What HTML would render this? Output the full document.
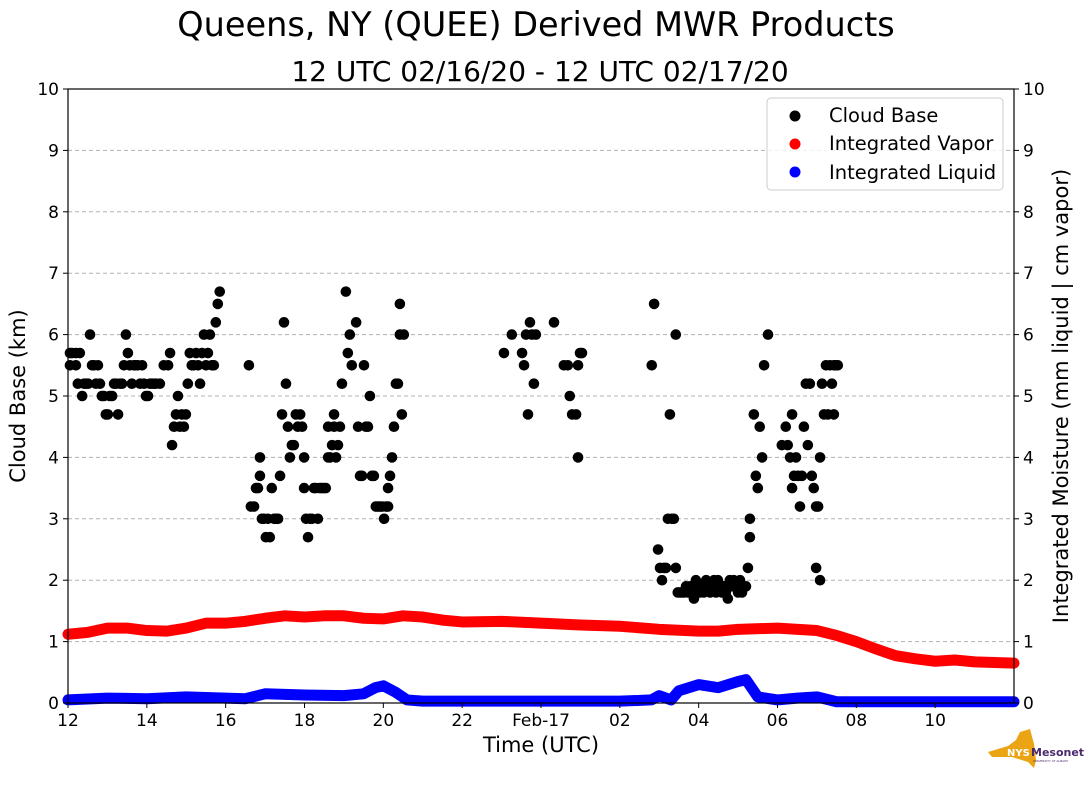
<!DOCTYPE html>
<html><head><meta charset="utf-8"><style>
body{margin:0;background:#fff;font-family:"Liberation Sans",sans-serif}
svg text{font-family:"DejaVu Sans","Liberation Sans",sans-serif}
</style></head><body>
<svg id="chart" width="1089" height="804" xmlns="http://www.w3.org/2000/svg">
<text x="536" y="36" font-size="33.5" text-anchor="middle">Queens, NY (QUEE) Derived MWR Products</text>
<text x="540" y="81" font-size="28" text-anchor="middle">12 UTC 02/16/20 - 12 UTC 02/17/20</text>
<g id="grid"></g><g id="series"></g><g id="axes"></g>
<text transform="translate(25,396) rotate(-90)" font-size="21" text-anchor="middle">Cloud Base (km)</text>
<text transform="translate(1068,396) rotate(-90)" font-size="21" text-anchor="middle">Integrated Moisture (mm liquid | cm vapor)</text>
<text x="541" y="752" font-size="21" text-anchor="middle">Time (UTC)</text>
<g>
<rect x="767" y="98" width="236" height="92" rx="4" fill="#fff" fill-opacity="0.8" stroke="#ccc"/>
<circle cx="795" cy="116" r="5.5" fill="#000"/><text x="829" y="122" font-size="19.5">Cloud Base</text>
<circle cx="795" cy="144" r="5.5" fill="red"/><text x="829" y="150" font-size="19.5">Integrated Vapor</text>
<circle cx="795" cy="172" r="5.5" fill="blue"/><text x="829" y="179" font-size="19.5">Integrated Liquid</text>
</g>
<g>
<path d="M988 752 L1008 746 L1016 740 L1020 732 L1030 729 L1034 744 L1036 760 L1034 768 L1028 762 L1012 757 L992 757 Z" fill="#eaa414"/>
<text x="1007" y="756" font-size="10" font-weight="bold" fill="#fff">NYS</text>
<text x="1031" y="756" font-size="11" font-weight="bold" fill="#4b2a6e">Mesonet</text>
<text x="1033" y="762" font-size="3" fill="#4b2a6e">UNIVERSITY AT ALBANY</text>
</g>
</svg>
<script>
const xTicks=[0,2,4,6,8,10,12,14,16,18,20,22];
const xTickLabels=["12","14","16","18","20","22","Feb-17","02","04","06","08","10"];
const yTicks=[0,1,2,3,4,5,6,7,8,9,10];
const cloudTimes=[0.05,0.05,0.10,0.20,0.20,0.25,0.30,0.36,0.41,0.46,0.51,0.56,0.61,0.66,0.71,0.76,0.81,0.86,0.91,0.96,1.01,1.06,1.12,1.17,1.22,1.27,1.32,1.37,1.42,1.47,1.52,1.57,1.62,1.67,1.72,1.77,1.83,1.88,1.93,1.98,2.03,2.08,2.13,2.18,2.23,2.33,2.43,2.54,2.59,2.64,2.69,2.74,2.79,2.84,2.89,2.94,2.99,3.04,3.09,3.14,3.19,3.25,3.30,3.35,3.40,3.45,3.50,3.55,3.60,3.65,3.70,3.75,3.80,3.85,
4.59,4.64,4.72,4.77,4.82,4.87,4.87,4.92,4.97,5.02,5.07,5.12,5.17,5.23,5.28,5.33,5.38,5.43,5.48,5.53,5.58,5.63,5.68,5.73,5.78,5.83,5.89,5.94,5.99,5.99,6.04,6.09,6.14,6.19,6.24,6.29,6.34,6.39,6.44,6.49,6.54,6.60,6.60,6.65,6.70,6.75,6.75,6.80,6.85,6.90,6.95,7.05,7.10,7.15,7.20,7.31,7.36,7.41,7.46,7.51,7.56,7.61,7.66,7.71,7.76,7.81,7.86,7.91,7.97,8.02,8.07,8.12,8.12,8.17,8.22,8.27,8.32,8.37,8.42,8.42,8.47,8.52,
11.06,11.26,11.52,11.57,11.62,11.67,11.72,11.77,11.82,11.87,12.33,12.58,12.68,12.73,12.79,12.89,12.94,12.94,12.99,13.04,
14.81,14.87,14.97,15.02,15.07,15.12,15.17,15.22,15.27,15.32,15.37,15.42,15.42,15.47,15.53,15.58,15.63,15.68,15.73,15.78,15.83,15.88,15.88,15.93,15.98,16.03,16.08,16.13,16.19,16.24,16.29,16.34,16.39,16.44,16.49,16.54,16.59,16.64,16.69,16.74,16.79,16.84,16.89,16.95,17.00,17.05,17.10,17.15,17.20,17.25,17.30,17.30,17.40,17.45,17.50,17.55,17.61,17.66,17.76,
18.11,18.21,18.26,18.32,18.37,18.37,18.42,18.47,18.52,18.57,18.62,18.67,18.72,18.77,18.82,18.87,18.92,18.98,18.98,19.03,19.08,19.08,19.13,19.18,19.23,19.28,19.33,19.38,19.43,19.43,19.48,19.53];
const cloudBase=[5.5,5.7,5.7,5.5,5.7,5.2,5.7,5.0,5.2,5.2,5.2,6.0,5.5,5.5,5.2,5.5,5.2,5.0,5.0,4.7,4.7,5.0,5.0,5.2,5.2,4.7,5.2,5.2,5.5,6.0,5.7,5.5,5.2,5.5,5.5,5.5,5.2,5.5,5.2,5.0,5.0,5.2,5.2,5.2,5.2,5.2,5.5,5.5,5.7,4.2,4.5,4.7,5.0,4.5,4.7,4.5,4.7,5.2,5.7,5.5,5.5,5.7,5.5,5.2,5.7,6.0,5.5,5.7,6.0,5.5,5.5,6.2,6.5,6.7,
5.5,3.2,3.2,3.5,3.5,4.0,3.7,3.0,3.0,2.7,3.0,2.7,3.5,3.0,3.0,3.0,3.7,4.7,6.2,5.2,4.5,4.0,4.2,4.2,4.7,4.5,4.7,4.5,4.0,3.5,3.0,2.7,3.0,3.0,3.5,3.5,3.0,3.5,3.5,3.5,3.5,4.0,4.5,4.0,4.2,4.5,4.7,4.0,4.2,4.5,5.2,6.7,5.7,6.0,5.5,6.2,4.5,3.7,3.7,5.5,4.5,4.5,5.0,3.7,3.7,3.2,3.2,3.2,3.2,3.0,3.2,3.2,3.5,3.7,4.0,4.5,5.2,5.2,6.0,6.5,4.7,6.0,
5.7,6.0,5.7,5.5,6.0,4.7,6.2,6.0,5.2,6.0,6.2,5.5,5.5,5.0,4.7,4.7,4.0,5.5,5.7,5.7,
5.5,6.5,2.5,2.2,2.0,2.2,2.2,3.0,4.7,3.0,3.0,6.0,2.2,1.8,1.8,1.8,1.8,1.9,1.8,1.9,1.8,1.9,1.7,2.0,1.9,1.8,1.9,1.8,2.0,1.9,1.8,1.9,2.0,1.8,2.0,1.9,1.8,1.9,1.8,1.7,2.0,1.9,2.0,1.9,1.8,2.0,1.8,1.9,1.9,2.2,2.7,3.0,4.7,3.7,3.5,4.5,4.0,5.5,6.0,
4.2,4.5,4.2,4.0,4.7,3.5,3.7,4.0,3.7,3.2,3.7,4.5,5.2,4.2,5.2,3.7,3.5,3.2,2.2,3.2,2.0,4.0,5.2,4.7,5.5,4.7,5.5,5.2,5.5,4.7,5.5,5.5];
const vaporTimes=[0,0.5,1,1.5,2,2.5,3,3.5,4,4.5,5,5.5,6,6.5,7,7.5,8,8.5,9,9.5,10,11,12,13,14,15,16,16.5,17,18,19,19.5,20,20.5,21,21.5,22,22.5,23,24];
const vaporValues=[1.12,1.15,1.22,1.22,1.18,1.17,1.22,1.30,1.30,1.33,1.38,1.42,1.40,1.42,1.42,1.38,1.37,1.42,1.40,1.35,1.32,1.33,1.30,1.27,1.25,1.20,1.17,1.17,1.20,1.22,1.18,1.10,1.00,0.88,0.77,0.72,0.68,0.70,0.67,0.65];
const liquidTimes=[0,1,2,3,4,4.5,5,6,7,7.5,7.8,8.0,8.3,8.6,9,14,14.8,15,15.3,15.5,16,16.5,17,17.2,17.5,18,18.5,19,19.5,24];
const liquidValues=[0.05,0.08,0.07,0.1,0.08,0.07,0.15,0.13,0.12,0.15,0.25,0.28,0.18,0.05,0.03,0.03,0.05,0.12,0.05,0.2,0.3,0.25,0.35,0.38,0.1,0.05,0.08,0.1,0.02,0.02];

const X0=68,X1=1014,Y0=703,Y1=89,NS="http://www.w3.org/2000/svg";
const sx=h=>X0+(h/24)*(X1-X0), sy=v=>Y0-(v/10)*(Y0-Y1);
function mk(t,a,p){const e=document.createElementNS(NS,t);for(const k in a)e.setAttribute(k,a[k]);p.appendChild(e);return e;}
const grid=document.getElementById('grid'),axes=document.getElementById('axes'),ser=document.getElementById('series');
yTicks.forEach(v=>{
 if(v>0&&v<10){const g=mk('line',{x1:X0,x2:X1,y1:sy(v),y2:sy(v),stroke:'#b0b0b0','stroke-dasharray':'4,3'},grid);
 
 }
 mk('line',{x1:X0-5,x2:X0,y1:sy(v),y2:sy(v),stroke:'#000'},axes);
 mk('line',{x1:X1,x2:X1+5,y1:sy(v),y2:sy(v),stroke:'#000'},axes);
 const l=mk('text',{x:X0-9,y:sy(v)+6,'font-size':17,'text-anchor':'end'},axes);l.textContent=v;
 
 
 const r=mk('text',{x:X1+9,y:sy(v)+6,'font-size':17},axes);r.textContent=v;
 
 
});
xTicks.forEach((h,i)=>{
 mk('line',{x1:sx(h),x2:sx(h),y1:Y0,y2:Y0+5,stroke:'#000'},axes);
 const t=mk('text',{x:sx(h),y:Y0+23,'font-size':17,'text-anchor':'middle'},axes);t.textContent=xTickLabels[i];
 
 
});
const fr=mk('rect',{x:X0,y:Y1,width:X1-X0,height:Y0-Y1,fill:'none',stroke:'#000','stroke-width':1.2},axes);


function line(ts,vs,col,name){
 const p=mk('polyline',{points:ts.map((t,i)=>sx(t)+','+sy(vs[i])).join(' '),fill:'none',stroke:col,'stroke-width':11,'stroke-linecap':'round','stroke-linejoin':'round'},ser);
 
 
}
line(vaporTimes,vaporValues,'red','integrated-vapor-series');
line(liquidTimes,liquidValues,'blue','integrated-liquid-series');
cloudTimes.forEach((t,i)=>{
 const c=mk('circle',{cx:sx(t),cy:sy(cloudBase[i]),r:5.3,fill:'#000'},ser);
 
 
});
</script>
</body></html>
